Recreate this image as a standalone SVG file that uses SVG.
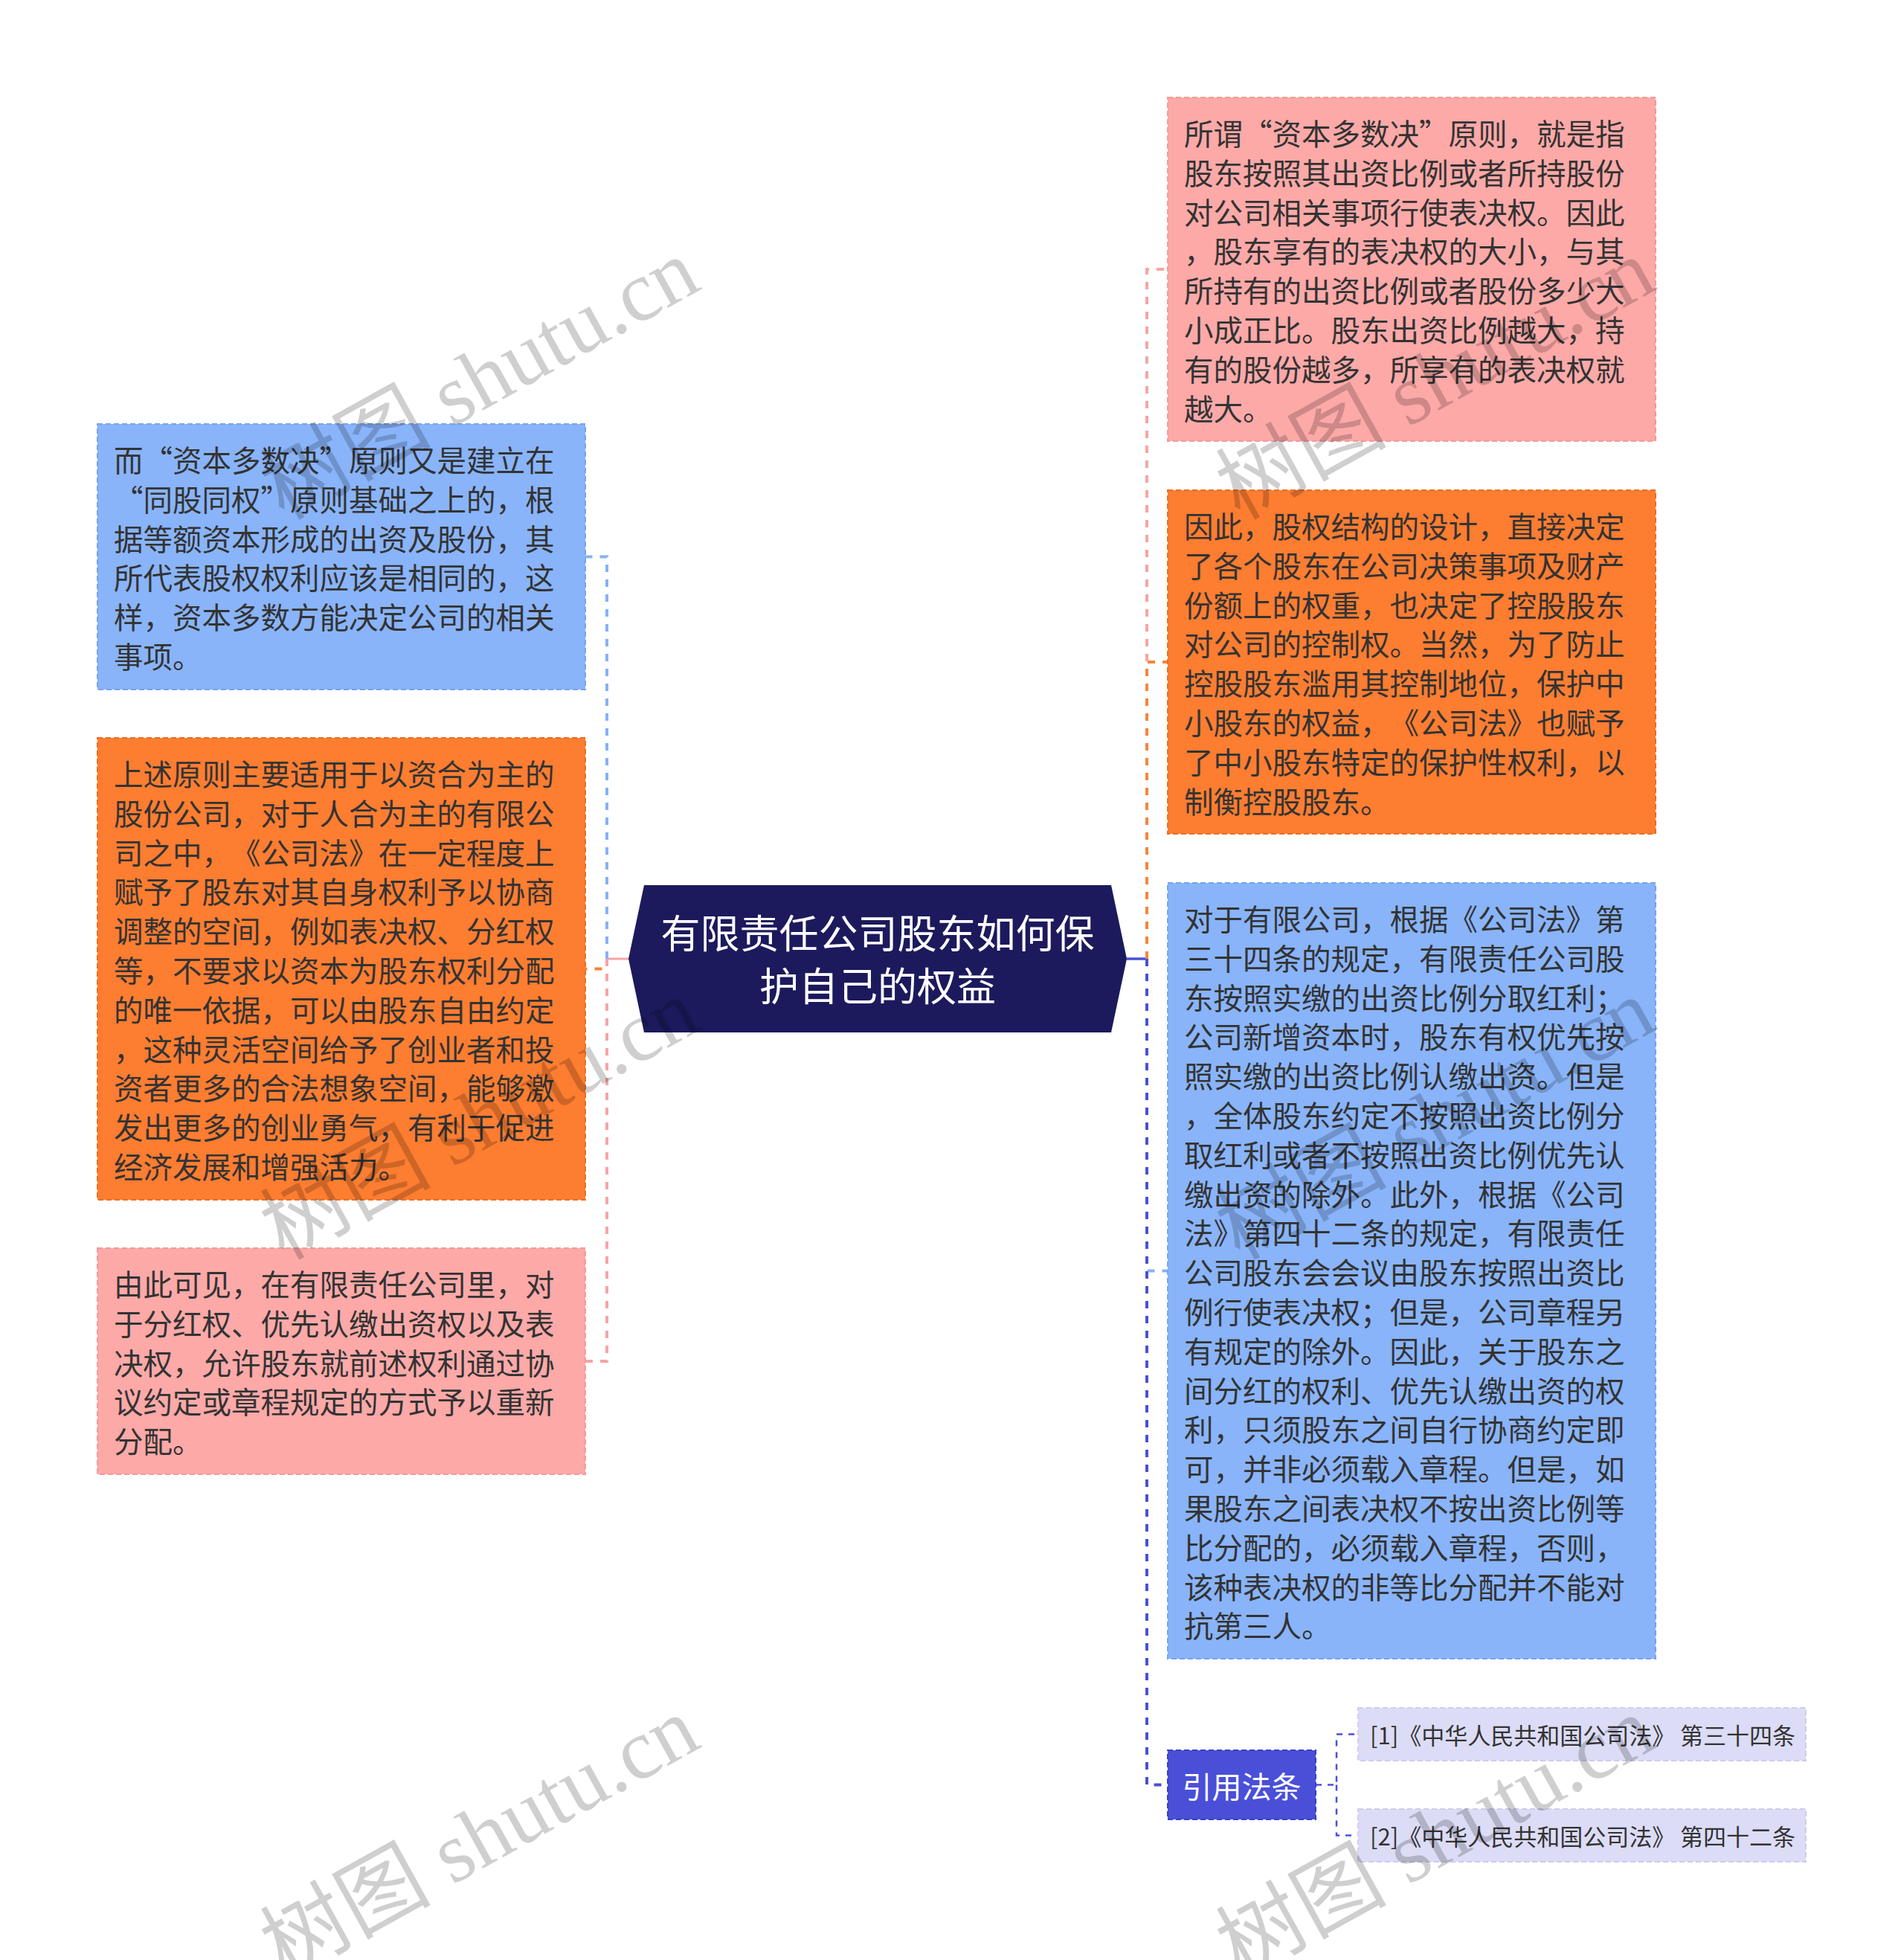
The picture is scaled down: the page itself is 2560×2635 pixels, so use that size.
<svg xmlns="http://www.w3.org/2000/svg" width="2560" height="2635" viewBox="0 0 2560 2635">
<style>
.bg{fill:#ffffff}
text{text-spacing-trim:space-all;font-feature-settings:"chws" 0,"halt" 0,"palt" 0}
.t{font-family:"Noto Sans CJK SC","Noto Sans",sans-serif;font-size:39.5px;fill:#333333;dominant-baseline:central}
.pink{fill:#fca9a8;stroke:#f29a99;stroke-width:2;stroke-dasharray:7 4}
.orange{fill:#fd7d31;stroke:#ea6e25;stroke-width:2;stroke-dasharray:7 4}
.blue{fill:#89b4fa;stroke:#78a3ec;stroke-width:2;stroke-dasharray:7 4}
.ref{fill:#dcdcf6;stroke:#cdcdee;stroke-width:2;stroke-dasharray:7 4}
.cite{fill:#4a4fd8;stroke:#3a3fc0;stroke-width:2;stroke-dasharray:7 4}
.c{fill:none;stroke-width:4;stroke-dasharray:10 10}
.cp{stroke:#f5a5a5}.co{stroke:#f7843c}.cb{stroke:#86b1f5}.cd{stroke:#4a50d6}
.wm{font-family:"Liberation Serif","Noto Sans CJK SC",serif;font-size:115px;fill:#000000;fill-opacity:0.19;text-anchor:middle;dominant-baseline:central}
</style>
<rect class="bg" x="0" y="0" width="2560" height="2635"/>

<g id="connectors">
  <line x1="845" y1="1289" x2="816" y2="1289" stroke="#f5a5a5" stroke-width="3"/>
  <path class="c cb" d="M816,1289 V748.5 H787"/>
  <path class="c co" d="M816,1289 V1302.5 H787"/>
  <path class="c cp" d="M816,1289 V1830 H787"/>
  <line x1="1515" y1="1289" x2="1542" y2="1289" stroke="#4a50d6" stroke-width="3.5"/>
  <path class="c cp" d="M1542,1289 V362 H1570"/>
  <path class="c co" d="M1542,1289 V890 H1570"/>
  <path class="c cb" d="M1542,1289 V1708.5 H1570"/>
  <path class="c cd" d="M1542,1289 V2399.5 H1570"/>
  <path fill="none" stroke="#4a50d6" stroke-width="2.5" stroke-dasharray="8 8" d="M1769,2399.5 H1797 V2331.5 H1826"/>
  <path fill="none" stroke="#4a50d6" stroke-width="2.5" stroke-dasharray="8 8" d="M1797,2399.5 V2467.5 H1826"/>
</g>

<g id="center">
  <polygon points="866,1190 1494,1190 1515,1289 1494,1388 866,1388 845,1289" fill="#1c1a5c"/>
  <text font-family="'Noto Sans CJK SC','Noto Sans',sans-serif" font-size="53" fill="#ffffff" text-anchor="middle" dominant-baseline="central"><tspan x="1180" y="1252">有限责任公司股东如何保</tspan><tspan x="1180" y="1323">护自己的权益</tspan></text>
</g>

<g id="node-left-blue">
  <rect class="blue" x="131" y="570" width="656" height="357"/>
  <text class="t"><tspan x="153" y="616">而“资本多数决”原则又是建立在</tspan><tspan x="153" dy="52.8">“同股同权”原则基础之上的，根</tspan><tspan x="153" dy="52.8">据等额资本形成的出资及股份，其</tspan><tspan x="153" dy="52.8">所代表股权权利应该是相同的，这</tspan><tspan x="153" dy="52.8">样，资本多数方能决定公司的相关</tspan><tspan x="153" dy="52.8">事项。</tspan></text>
</g>

<g id="node-left-orange">
  <rect class="orange" x="131" y="992" width="656" height="621"/>
  <text class="t"><tspan x="153" y="1038">上述原则主要适用于以资合为主的</tspan><tspan x="153" dy="52.8">股份公司，对于人合为主的有限公</tspan><tspan x="153" dy="52.8">司之中，《公司法》在一定程度上</tspan><tspan x="153" dy="52.8">赋予了股东对其自身权利予以协商</tspan><tspan x="153" dy="52.8">调整的空间，例如表决权、分红权</tspan><tspan x="153" dy="52.8">等，不要求以资本为股东权利分配</tspan><tspan x="153" dy="52.8">的唯一依据，可以由股东自由约定</tspan><tspan x="153" dy="52.8">，这种灵活空间给予了创业者和投</tspan><tspan x="153" dy="52.8">资者更多的合法想象空间，能够激</tspan><tspan x="153" dy="52.8">发出更多的创业勇气，有利于促进</tspan><tspan x="153" dy="52.8">经济发展和增强活力。</tspan></text>
</g>

<g id="node-left-pink">
  <rect class="pink" x="131" y="1678" width="656" height="304"/>
  <text class="t"><tspan x="153" y="1724">由此可见，在有限责任公司里，对</tspan><tspan x="153" dy="52.8">于分红权、优先认缴出资权以及表</tspan><tspan x="153" dy="52.8">决权，允许股东就前述权利通过协</tspan><tspan x="153" dy="52.8">议约定或章程规定的方式予以重新</tspan><tspan x="153" dy="52.8">分配。</tspan></text>
</g>

<g id="node-right-pink">
  <rect class="pink" x="1570" y="131" width="656" height="462"/>
  <text class="t"><tspan x="1592" y="177">所谓“资本多数决”原则，就是指</tspan><tspan x="1592" dy="52.8">股东按照其出资比例或者所持股份</tspan><tspan x="1592" dy="52.8">对公司相关事项行使表决权。因此</tspan><tspan x="1592" dy="52.8">，股东享有的表决权的大小，与其</tspan><tspan x="1592" dy="52.8">所持有的出资比例或者股份多少大</tspan><tspan x="1592" dy="52.8">小成正比。股东出资比例越大，持</tspan><tspan x="1592" dy="52.8">有的股份越多，所享有的表决权就</tspan><tspan x="1592" dy="52.8">越大。</tspan></text>
</g>

<g id="node-right-orange">
  <rect class="orange" x="1570" y="659" width="656" height="462"/>
  <text class="t"><tspan x="1592" y="705">因此，股权结构的设计，直接决定</tspan><tspan x="1592" dy="52.8">了各个股东在公司决策事项及财产</tspan><tspan x="1592" dy="52.8">份额上的权重，也决定了控股股东</tspan><tspan x="1592" dy="52.8">对公司的控制权。当然，为了防止</tspan><tspan x="1592" dy="52.8">控股股东滥用其控制地位，保护中</tspan><tspan x="1592" dy="52.8">小股东的权益，《公司法》也赋予</tspan><tspan x="1592" dy="52.8">了中小股东特定的保护性权利，以</tspan><tspan x="1592" dy="52.8">制衡控股股东。</tspan></text>
</g>

<g id="node-right-blue">
  <rect class="blue" x="1570" y="1187" width="656" height="1043"/>
  <text class="t"><tspan x="1592" y="1233">对于有限公司，根据《公司法》第</tspan><tspan x="1592" dy="52.8">三十四条的规定，有限责任公司股</tspan><tspan x="1592" dy="52.8">东按照实缴的出资比例分取红利；</tspan><tspan x="1592" dy="52.8">公司新增资本时，股东有权优先按</tspan><tspan x="1592" dy="52.8">照实缴的出资比例认缴出资。但是</tspan><tspan x="1592" dy="52.8">，全体股东约定不按照出资比例分</tspan><tspan x="1592" dy="52.8">取红利或者不按照出资比例优先认</tspan><tspan x="1592" dy="52.8">缴出资的除外。此外，根据《公司</tspan><tspan x="1592" dy="52.8">法》第四十二条的规定，有限责任</tspan><tspan x="1592" dy="52.8">公司股东会会议由股东按照出资比</tspan><tspan x="1592" dy="52.8">例行使表决权；但是，公司章程另</tspan><tspan x="1592" dy="52.8">有规定的除外。因此，关于股东之</tspan><tspan x="1592" dy="52.8">间分红的权利、优先认缴出资的权</tspan><tspan x="1592" dy="52.8">利，只须股东之间自行协商约定即</tspan><tspan x="1592" dy="52.8">可，并非必须载入章程。但是，如</tspan><tspan x="1592" dy="52.8">果股东之间表决权不按出资比例等</tspan><tspan x="1592" dy="52.8">比分配的，必须载入章程，否则，</tspan><tspan x="1592" dy="52.8">该种表决权的非等比分配并不能对</tspan><tspan x="1592" dy="52.8">抗第三人。</tspan></text>
</g>

<g id="node-cite">
  <rect class="cite" x="1570" y="2353" width="199" height="93"/>
  <text font-family="'Noto Sans CJK SC','Noto Sans',sans-serif" font-size="40" fill="#ffffff" text-anchor="middle" dominant-baseline="central" x="1669.5" y="2399.5">引用法条</text>
</g>

<g id="node-ref1">
  <rect class="ref" x="1826" y="2296" width="602" height="71"/>
  <text class="t" style="font-size:31px" x="1842" y="2331.5">[1]《中华人民共和国公司法》 第三十四条</text>
</g>

<g id="node-ref2">
  <rect class="ref" x="1826" y="2432" width="602" height="71"/>
  <text class="t" style="font-size:31px" x="1842" y="2467.5">[2]《中华人民共和国公司法》 第四十二条</text>
</g>

<g id="watermarks">
  <text class="wm" transform="translate(645,510) rotate(-29)">树图 shutu.cn</text>
  <text class="wm" transform="translate(645,1505) rotate(-29)">树图 shutu.cn</text>
  <text class="wm" transform="translate(645,2470) rotate(-29)">树图 shutu.cn</text>
  <text class="wm" transform="translate(1930,510) rotate(-29)">树图 shutu.cn</text>
  <text class="wm" transform="translate(1930,1505) rotate(-29)">树图 shutu.cn</text>
  <text class="wm" transform="translate(1930,2470) rotate(-29)">树图 shutu.cn</text>
</g>
</svg>
